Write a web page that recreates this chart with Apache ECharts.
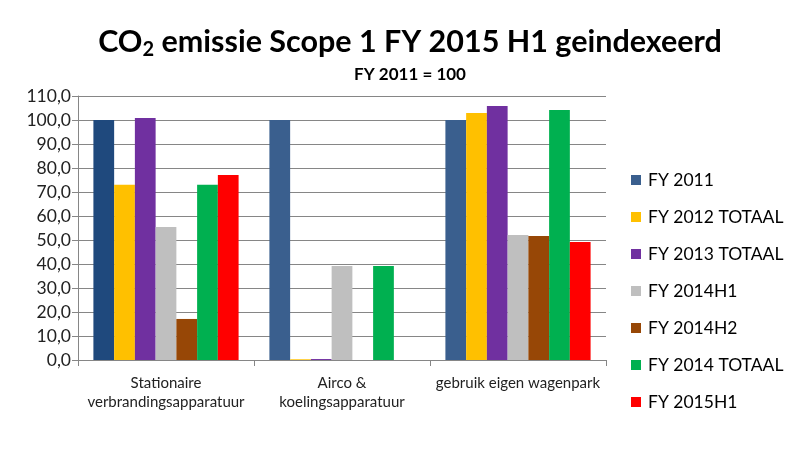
<!DOCTYPE html>
<html><head><meta charset="utf-8">
<script src="https://cdn.jsdelivr.net/npm/echarts@6/dist/echarts.min.js"></script>
<style>html,body{margin:0;padding:0;background:#fff}#c{width:811px;height:475px}</style>
</head><body><div id="c"></div>
<script>
var categories = ['Stationaire\nverbrandingsapparatuur', 'Airco &\nkoelingsapparatuur', 'gebruik eigen wagenpark'];
var seriesNames = ['FY 2011', 'FY 2012 TOTAAL', 'FY 2013 TOTAAL', 'FY 2014H1', 'FY 2014H2', 'FY 2014 TOTAAL', 'FY 2015H1'];
var fy2011 = [100, 100, 100];
var fy2012 = [73.0, 0.3, 102.9];
var fy2013 = [100.8, 0.4, 105.8];
var fy2014h1 = [55.4, 39.2, 52.1];
var fy2014h2 = [17.1, 0, 51.7];
var fy2014tot = [73.0, 39.2, 104.2];
var fy2015h1 = [77.1, 0, 49.2];
var yTicks = { min: 0, max: 110, interval: 10 };

var colors = ['#3A5F8E', '#FFC000', '#7030A0', '#BFBFBF', '#974706', '#00B050', '#FF0000'];
var allData = [fy2011, fy2012, fy2013, fy2014h1, fy2014h2, fy2014tot, fy2015h1];
var font = 'Lato, "Open Sans", sans-serif';

var series = allData.map(function (d, i) {
  return {
    name: seriesNames[i], type: 'bar', barGap: '0%', barCategoryGap: '17.5%',
    itemStyle: { color: colors[i] },
    data: d.map(function (v, j) {
      if (i === 0 && j === 0) return { value: v, itemStyle: { color: '#1F497D' } };
      return v;
    })
  };
});

var chart = echarts.init(document.getElementById('c'));
chart.setOption({
  animation: false,
  title: [{
    text: '{a|CO}{s|2}{a| emissie Scope 1 FY 2015 H1 geindexeerd}',
    left: 405, top: 18, textAlign: 'center',
    textStyle: { rich: {
      a: { fontFamily: font, fontWeight: 'bold', fontSize: 30.5, color: '#000', lineHeight: 38 },
      s: { fontFamily: font, fontWeight: 'bold', fontSize: 20, color: '#000', lineHeight: 38, padding: [16, 0, 0, 0] }
    } }
  }, {
    text: 'FY 2011 = 100', left: 405, top: 61, textAlign: 'center',
    textStyle: { fontFamily: font, fontWeight: 'bold', fontSize: 17, color: '#000' }
  }],
  legend: {
    orient: 'vertical', left: 626, top: 166, itemGap: 19, itemWidth: 10, itemHeight: 10,
    icon: 'rect',
    textStyle: { fontFamily: font, fontSize: 17.5, color: '#000', padding: [0, 0, 0, 2] },
    data: seriesNames
  },
  grid: { left: 78, right: 205, top: 96, bottom: 115, containLabel: false },
  xAxis: {
    type: 'category', data: categories,
    axisLine: { lineStyle: { color: '#868686' } },
    axisTick: { show: true, length: 6, lineStyle: { color: '#868686' } },
    axisLabel: { fontFamily: font, fontSize: 15, color: '#222', margin: 14, lineHeight: 19, interval: 0 }
  },
  yAxis: {
    type: 'value', min: yTicks.min, max: yTicks.max, interval: yTicks.interval,
    axisLine: { show: true, lineStyle: { color: '#868686' } },
    axisTick: { show: true, length: 6, lineStyle: { color: '#868686' } },
    splitLine: { lineStyle: { color: '#868686' } },
    axisLabel: { fontFamily: font, fontSize: 17.5, color: '#222', margin: 7,
      formatter: function (v) { return v.toFixed(1).replace('.', ','); } }
  },
  series: series
});
</script></body></html>
